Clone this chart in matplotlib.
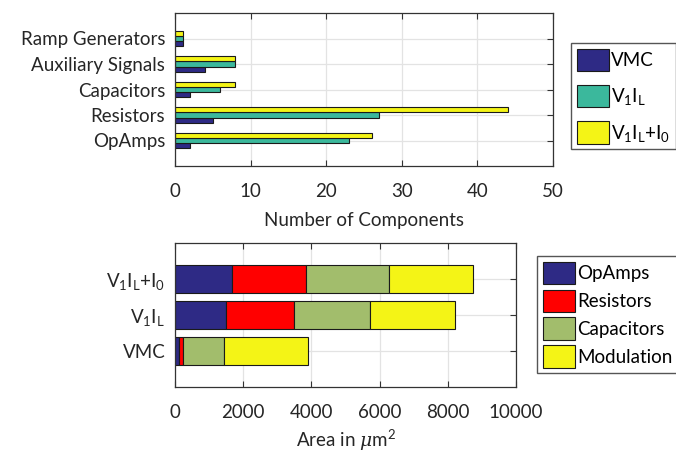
import matplotlib
matplotlib.use("Agg")
import matplotlib.pyplot as plt
import numpy as np

FONT = 'Lato'
plt.rcParams['font.family'] = [FONT, 'DejaVu Sans']
plt.rcParams['mathtext.fontset'] = 'custom'
plt.rcParams['mathtext.rm'] = FONT
plt.rcParams['mathtext.it'] = 'DejaVu Serif:italic'

# Component counts per design
components = ['OpAmps', 'Resistors', 'Capacitors', 'Auxiliary Signals', 'Ramp Generators']
count_vmc = [2, 5, 2, 4, 1]
count_v1il = [23, 27, 6, 8, 1]
count_v1il_i0 = [26, 44, 8, 8, 1]
count_series = ['VMC', r'$\mathrm{V_1I_L}$', r'$\mathrm{V_1I_L{+}I_0}$']

# Area breakdown per design
designs = ['VMC', r'$\mathrm{V_1I_L}$', r'$\mathrm{V_1I_L{+}I_0}$']
area_parts = ['OpAmps', 'Resistors', 'Capacitors', 'Modulation']
area_opamps = [120, 1490, 1680]
area_resistors = [100, 2000, 2170]
area_capacitors = [1220, 2240, 2420]
area_modulation = [2460, 2470, 2460]

count_colors = ['#2e2a85', '#3bb89c', '#f4f416']
area_colors = ['#2e2a85', '#ff0000', '#a2bd6c', '#f4f416']

FS = 13.5
TXT = '#262626'

fig = plt.figure(figsize=(6.76, 4.55), dpi=100)
ax1 = fig.add_axes([175/676, 1-166/455, (553-175)/676, (166-13)/455])
ax2 = fig.add_axes([175/676, 1-387/455, (516-175)/676, (387-243)/455])

def style(ax):
    ax.grid(True, color='#e3e3e3', linewidth=0.9)
    ax.set_axisbelow(True)
    ax.tick_params(direction='in', top=True, right=True, length=4,
                   color='#333333', labelsize=FS, labelcolor=TXT)
    ax.tick_params(axis='x', pad=12)
    ax.tick_params(axis='y', pad=7)
    for s in ax.spines.values():
        s.set_color('#333333')
        s.set_linewidth(0.9)

legend_kw = dict(loc='upper left', bbox_transform=fig.transFigure,
                 fontsize=FS, handlelength=1.7, handleheight=1.45,
                 handletextpad=0.15, borderpad=0.3, borderaxespad=0,
                 fancybox=False, edgecolor='#555555', framealpha=1)

# Grouped horizontal bars of component counts
y = np.arange(1, len(components) + 1)
h = 0.2
offsets = [-0.21, 0.0, 0.21]
handles = []
for vals, off, col, lab in zip([count_vmc, count_v1il, count_v1il_i0], offsets,
                               count_colors, count_series):
    b = ax1.barh(y + off, vals, height=h, color=col, edgecolor='#1a1a1a',
                 linewidth=0.8, label=lab)
    handles.append(b)
ax1.set_xlim(0, 50)
ax1.set_ylim(0, 6)
ax1.set_yticks(y)
ax1.set_yticklabels(components)
ax1.set_xticks([0, 10, 20, 30, 40, 50])
ax1.set_xlabel('Number of Components', fontsize=FS, labelpad=9, color=TXT)
style(ax1)
ax1.legend(handles, count_series, bbox_to_anchor=(571/676, 1-43/455),
           labelspacing=0.75, **legend_kw)

# Stacked horizontal bars of area
y2 = np.arange(1, len(designs) + 1)
left = np.zeros(len(designs))
h2 = []
for vals, col, lab in zip([area_opamps, area_resistors, area_capacitors, area_modulation],
                          area_colors, area_parts):
    b = ax2.barh(y2, vals, left=left, height=0.8, color=col, edgecolor='#1a1a1a',
                 linewidth=0.8, label=lab)
    h2.append(b)
    left = left + np.array(vals)
ax2.set_xlim(0, 10000)
ax2.set_ylim(0, 4)
ax2.set_yticks(y2)
ax2.set_yticklabels(designs)
ax2.set_xticks([0, 2000, 4000, 6000, 8000, 10000])
ax2.set_xlabel(r'Area in $\mu$m$^2$', fontsize=FS, labelpad=5, color=TXT)
style(ax2)
ax2.legend(h2, area_parts, bbox_to_anchor=(537/676, 1-256/455),
           labelspacing=0.3, **legend_kw)

fig.savefig('out.png', dpi=100)
